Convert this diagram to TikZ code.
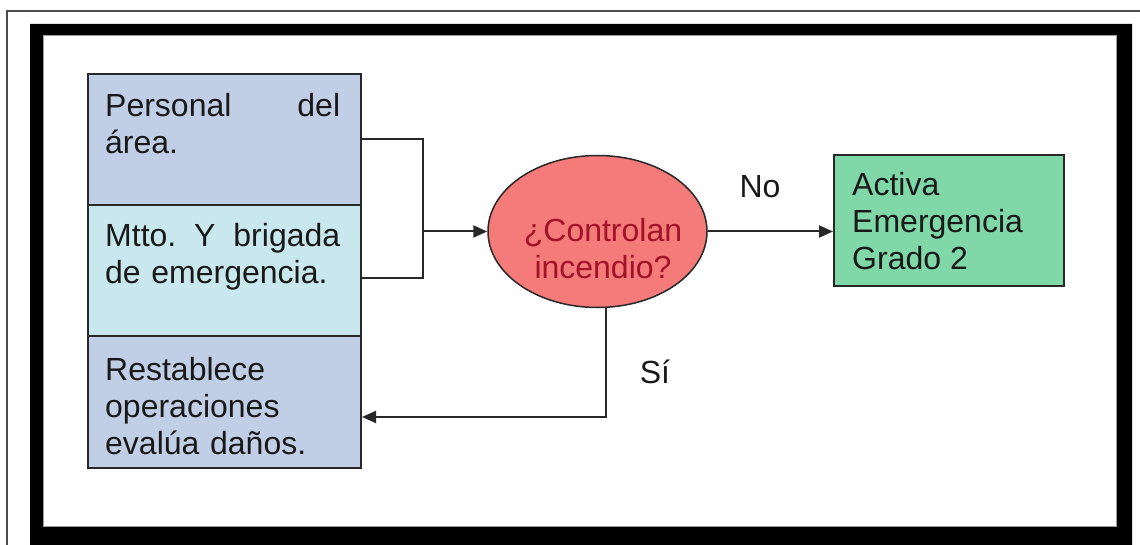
\documentclass[tikz,border=0pt]{standalone}
\usepackage{fontspec}
\setmainfont{Liberation Sans}
\usetikzlibrary{shapes.geometric,arrows.meta}
\definecolor{boxblue}{RGB}{193,207,230}
\definecolor{boxcyan}{RGB}{200,232,238}
\definecolor{ellred}{RGB}{245,122,122}
\definecolor{elltext}{RGB}{160,20,40}
\definecolor{boxgreen}{RGB}{128,216,168}
\definecolor{edge}{RGB}{40,40,40}
\begin{document}
\begin{tikzpicture}[x=1pt,y=-1pt,
  box/.style={draw=edge,line width=2pt,rectangle,inner sep=0pt,anchor=north west},
  txt/.style={inner sep=0pt,align=left,font=\fontsize{32}{37}\selectfont,text=black!90},
  conn/.style={draw=edge,line width=2pt},
  arr/.style={conn,-{Triangle[length=14pt,width=12pt]}}]
\clip (0,0) rectangle (1140,545);
\fill[white] (0,0) rectangle (1140,545);
\draw[line width=1.5pt,black!70] (7,11) rectangle (1160,570);
\fill[black,even odd rule] (30,24) rectangle (1132,570) (43,35) rectangle (1116,526);
\draw[black!40,line width=0.8pt] (43,35) rectangle (1116,526);
% left stack
\node[box,fill=boxblue,minimum width=273pt,minimum height=131pt] (b1) at (87,73) {};
\node[box,fill=boxcyan,minimum width=273pt,minimum height=131pt] (b2) at (87,204) {};
\node[box,fill=boxblue,minimum width=273pt,minimum height=132pt] (b3) at (87,335) {};
\node[txt,anchor=north west,text width=235pt] (t1) at (105,93) {Personal\hfill del\\área.};
\node[txt,anchor=north west,text width=235pt] (t2) at (105,223) {Mtto.\hfill Y\hfill brigada\\de emergencia.};
\node[txt,anchor=north west,text width=235pt] (t3) at (105,357) {Restablece\\operaciones\\evalúa daños.};
% decision
\node[ellipse,draw=edge,line width=1.5pt,fill=ellred,minimum width=219pt,minimum height=152pt,inner sep=0pt] (q) at (597.5,231.5) {};
\node[txt,align=center,anchor=north,text=elltext] (tq) at (603,218) {¿Controlan\\incendio?};
% green box
\node[box,fill=boxgreen,minimum width=230pt,minimum height=131pt] (g) at (833,154) {};
\node[txt,anchor=north west] (tg) at (852,172) {Activa\\Emergencia\\Grado 2};
% connectors
\coordinate (j) at (423,231.5);
\draw[conn] (b1.east) -| (j);
\draw[conn] ([yshift=-7.5pt]b2.east) -| (j);
\draw[arr] (j) -- (q.west);
\draw[arr] (q.east) -- (q.east -| g.west);
\draw[arr] (q.-84) |- ([yshift=-15pt]b3.east);
\node[txt] (no) at (760,187) {No};
\node[txt,anchor=base] (si) at (655,383) {Sí};
\end{tikzpicture}
\end{document}
